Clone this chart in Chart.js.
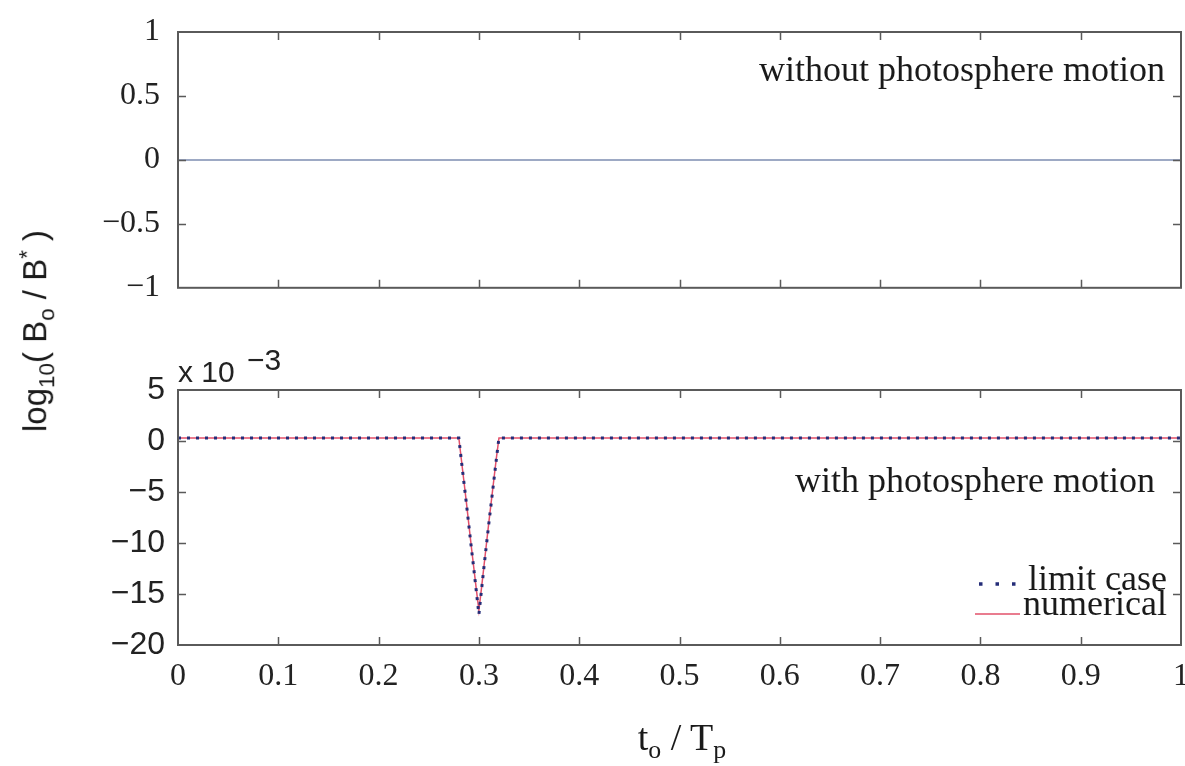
<!DOCTYPE html>
<html>
<head>
<meta charset="utf-8">
<script src="https://cdn.jsdelivr.net/npm/chart.js@4.4.0/dist/chart.umd.min.js"></script>
<style>
  html, body { margin: 0; padding: 0; background: #fff; }
  #wrap { position: relative; width: 1185px; height: 766px; overflow: hidden; background: #fff; }
  canvas { position: absolute; left: 0; }
  #topChart { top: -20px; }
  #bottomChart { top: 330px; }
  .ytitle {
    position: absolute; left: 37px; top: 331px;
    transform: translate(-50%, -50%) rotate(-90deg);
    font: 33px "Liberation Sans", Arial, sans-serif; color: #1a1a1a; white-space: nowrap;
  }
  .xtitle {
    position: absolute; left: 682px; top: 740px;
    transform: translate(-50%, -50%);
    font: 38px "Liberation Serif", "Times New Roman", serif; color: #1a1a1a; white-space: nowrap;
  }
  sub, sup { font-size: 0.68em; }
</style>
</head>
<body>
<div id="wrap">
  <canvas id="topChart" width="1215" height="345"></canvas>
  <canvas id="bottomChart" width="1215" height="436"></canvas>
  <div class="ytitle">log<sub>10</sub>( B<sub>o</sub> / B<sup>*</sup> )</div>
  <div class="xtitle">t<sub>o</sub> / T<sub>p</sub></div>
</div>
<script>
// datos
const xTickValues = [0, 0.1, 0.2, 0.3, 0.4, 0.5, 0.6, 0.7, 0.8, 0.9, 1];
const topYTicks = [-1, -0.5, 0, 0.5, 1];
const bottomYTicks = [-20, -15, -10, -5, 0, 5];

// panel superior: sin movimiento de la fotosfera
const topX = [0, 1];
const topY = [0, 0];

// panel inferior (unidades de 1e-3)
const dipX = [0, 0.280, 0.2825, 0.285, 0.2875, 0.290, 0.2925, 0.295, 0.2975, 0.300,
              0.3025, 0.305, 0.3075, 0.310, 0.3125, 0.315, 0.3175, 0.320, 1];
const limitY = [0.3, 0.3, -1.9, -4.0, -6.1, -8.3, -10.5, -12.6, -14.8, -17.0,
                -14.7, -12.4, -10.2, -8.0, -5.9, -3.8, -1.7, 0.3, 0.3];
const numericalY = [0.3, 0.3, -1.8, -3.9, -6.0, -8.2, -10.4, -12.5, -14.6, -16.6,
                    -14.5, -12.3, -10.1, -7.9, -5.8, -3.7, -1.6, 0.3, 0.3];

const serif = '"Liberation Serif", "Times New Roman", serif';
const sans = '"Liberation Sans", Arial, sans-serif';
const frameColor = '#5a5a5a';
const limitColor = '#252d78';
const numColor = '#e2506a';

const toPoints = (xs, ys) => xs.map((x, i) => ({ x: x, y: ys[i] }));
const fmt = v => {
    const s = String(Number(Number(v).toFixed(2)));
    return s.replace('-', '\u2212');
};

// marco con marcas de division hacia dentro
const framePlugin = {
    id: 'frame',
    afterDatasetsDraw(chart) {
        const { ctx, chartArea: a, scales } = chart;
        const len = 8;
        ctx.save();
        ctx.strokeStyle = frameColor;
        ctx.lineWidth = 1.5;
        xTickValues.forEach(v => {
            if (v <= 0 || v >= 1) return;
            const px = Math.round(scales.x.getPixelForValue(v)) + 0.5;
            ctx.beginPath();
            ctx.moveTo(px, a.bottom); ctx.lineTo(px, a.bottom - len);
            ctx.moveTo(px, a.top); ctx.lineTo(px, a.top + len);
            ctx.stroke();
        });
        const yt = chart.options.plugins.frame.yTicks;
        yt.forEach(v => {
            if (v <= scales.y.min || v >= scales.y.max) return;
            const py = Math.round(scales.y.getPixelForValue(v)) + 0.5;
            ctx.beginPath();
            ctx.moveTo(a.left, py); ctx.lineTo(a.left + len, py);
            ctx.moveTo(a.right, py); ctx.lineTo(a.right - len, py);
            ctx.stroke();
        });
        ctx.lineWidth = 2;
        ctx.strokeRect(a.left, a.top, a.right - a.left, a.bottom - a.top);
        ctx.restore();
    }
};

const topText = {
    id: 'topText',
    afterDraw(chart) {
        const ctx = chart.ctx;
        const off = -20;
        ctx.save();
        ctx.fillStyle = '#1a1a1a';
        ctx.font = '36px ' + serif;
        ctx.textAlign = 'right';
        ctx.textBaseline = 'middle';
        ctx.fillText('without photosphere motion', 1165, 72 - off);
        ctx.restore();
    }
};

const bottomText = {
    id: 'bottomText',
    afterDraw(chart) {
        const ctx = chart.ctx;
        const off = 330;
        ctx.save();
        ctx.fillStyle = '#1a1a1a';
        ctx.font = '36px ' + serif;
        ctx.textAlign = 'right';
        ctx.textBaseline = 'middle';
        ctx.fillText('with photosphere motion', 1155, 483 - off);
        ctx.fillText('limit case', 1167, 581 - off);
        ctx.fillText('numerical', 1167, 606 - off);

        // exponente del eje
        ctx.font = '30px ' + sans;
        ctx.textAlign = 'left';
        ctx.textBaseline = 'alphabetic';
        ctx.fillStyle = '#222';
        ctx.fillText('x 10', 178, 382 - off);
        ctx.fillText('\u22123', 247, 370 - off);

        // simbolos de la leyenda
        ctx.strokeStyle = limitColor;
        ctx.lineWidth = 3.5;
        ctx.setLineDash([3.5, 13]);
        ctx.beginPath();
        ctx.moveTo(979, 584 - off); ctx.lineTo(1016, 584 - off);
        ctx.stroke();
        ctx.setLineDash([]);
        ctx.strokeStyle = numColor;
        ctx.lineWidth = 1.5;
        ctx.beginPath();
        ctx.moveTo(975, 614 - off); ctx.lineTo(1020, 614 - off);
        ctx.stroke();
        ctx.restore();
    }
};

new Chart(document.getElementById('topChart'), {
    type: 'line',
    data: {
        datasets: [{
            label: 'without photosphere motion',
            data: toPoints(topX, topY),
            borderColor: '#7d8db0',
            borderWidth: 1.5,
            pointRadius: 0
        }]
    },
    options: {
        responsive: false,
        animation: false,
        devicePixelRatio: 1,
        layout: { padding: { top: 52, bottom: 0, right: 34, left: 0 } },
        plugins: {
            legend: { display: false },
            tooltip: { enabled: false },
            frame: { yTicks: topYTicks }
        },
        scales: {
            x: {
                type: 'linear', min: 0, max: 1,
                afterFit: s => { s.height = 37; },
                grid: { display: false, drawTicks: false },
                border: { display: false },
                ticks: { display: false }
            },
            y: {
                min: -1, max: 1,
                afterFit: s => { s.width = 178; },
                afterBuildTicks: s => { s.ticks = topYTicks.map(v => ({ value: v })); },
                grid: { display: false, drawTicks: false },
                border: { display: false },
                ticks: {
                    padding: 18,
                    color: '#222',
                    font: { family: serif, size: 32 },
                    callback: v => fmt(v)
                }
            }
        }
    },
    plugins: [framePlugin, topText]
});

new Chart(document.getElementById('bottomChart'), {
    type: 'line',
    data: {
        datasets: [{
            label: 'limit case',
            data: toPoints(dipX, limitY),
            borderColor: limitColor,
            borderWidth: 3,
            borderDash: [3, 6],
            pointRadius: 0
        }, {
            label: 'numerical',
            data: toPoints(dipX, numericalY),
            borderColor: numColor,
            borderWidth: 1.5,
            pointRadius: 0
        }]
    },
    options: {
        responsive: false,
        animation: false,
        devicePixelRatio: 1,
        layout: { padding: { top: 60, bottom: 0, right: 34, left: 0 } },
        plugins: {
            legend: { display: false },
            tooltip: { enabled: false },
            frame: { yTicks: bottomYTicks }
        },
        scales: {
            x: {
                type: 'linear', min: 0, max: 1,
                afterFit: s => { s.height = 121; },
                afterBuildTicks: s => { s.ticks = xTickValues.map(v => ({ value: v })); },
                grid: { display: false, drawTicks: false },
                border: { display: false },
                ticks: {
                    padding: 12,
                    maxRotation: 0,
                    autoSkip: false,
                    color: '#222',
                    font: { family: serif, size: 32 },
                    callback: v => fmt(v)
                }
            },
            y: {
                min: -20, max: 5,
                afterFit: s => { s.width = 178; },
                afterBuildTicks: s => { s.ticks = bottomYTicks.map(v => ({ value: v })); },
                grid: { display: false, drawTicks: false },
                border: { display: false },
                ticks: {
                    padding: 13,
                    color: '#222',
                    font: { family: sans, size: 32 },
                    callback: v => fmt(v)
                }
            }
        }
    },
    plugins: [framePlugin, bottomText]
});
</script>
</body>
</html>
